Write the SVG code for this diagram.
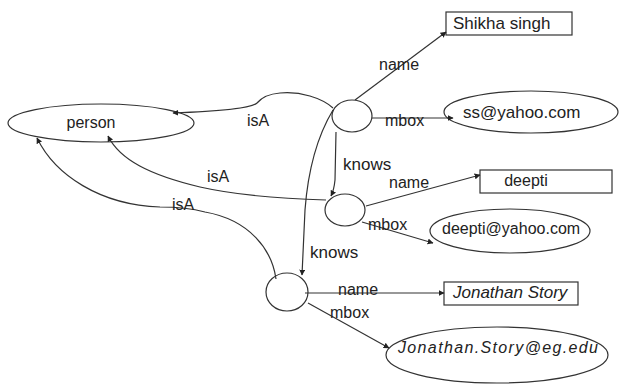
<svg xmlns="http://www.w3.org/2000/svg" width="619" height="385" viewBox="0 0 619 385">
<defs>
<style>
.n{fill:#fff;stroke:#333;stroke-width:1.2}
.e{fill:none;stroke:#333;stroke-width:1.2;marker-end:url(#a)}
text{font-family:"Liberation Sans",Arial,sans-serif;font-size:16px;fill:#222}
.b{font-size:17px}
.i{font-style:italic}
</style>
<marker id="a" viewBox="0 0 10 10" refX="9" refY="5" markerWidth="5" markerHeight="5" orient="auto">
<path d="M0,0 L10,5 L0,10 z" fill="#222"/>
</marker>
</defs>
<rect width="619" height="385" fill="#fff"/>
<g id="person"><ellipse class="n" cx="101" cy="123" rx="93" ry="19"/><text x="91" y="128" text-anchor="middle">person</text></g>
<g id="node1"><ellipse class="n" cx="352" cy="116" rx="20" ry="16"/></g>
<g id="node2"><ellipse class="n" cx="345" cy="210" rx="20" ry="16"/></g>
<g id="node3"><ellipse class="n" cx="287" cy="292" rx="21" ry="19"/></g>
<g id="shikha"><rect class="n" x="446" y="12" width="126" height="23"/><text class="b" x="453" y="29">Shikha singh</text></g>
<g id="ss"><ellipse class="n" cx="531" cy="112" rx="87" ry="21"/><text class="b" x="463" y="118">ss@yahoo.com</text></g>
<g id="deepti"><rect class="n" x="480" y="170" width="132" height="23"/><text x="526" y="186" text-anchor="middle">deepti</text></g>
<g id="deeptimail"><ellipse class="n" cx="510" cy="231" rx="80" ry="22"/><text x="442" y="234">deepti@yahoo.com</text></g>
<g id="jonathan"><rect class="n" x="444" y="282" width="134" height="23"/><text class="b i" x="453" y="298">Jonathan Story</text></g>
<g id="jonathanmail"><ellipse class="n" cx="497" cy="355" rx="111" ry="28"/><text class="i" x="398" y="353" font-size="18" textLength="200">Jonathan.Story@eg.edu</text></g>
<g id="connectors">
<path class="e" d="M333,108 C322,98 300,91 280,93 C268,94 262,97 257,103 C250,110 200,112 173,113"/>
<path class="e" d="M326,200 C290,199 240,196 200,187 C150,175 120,160 108,136"/>
<path class="e" d="M276,279 C272,250 250,220 205,212 C190,208 175,207 160,207 C100,205 55,175 37,138"/>
<path class="e" d="M336,132 L335,180 Q334,190 331,196"/>
<path class="e" d="M333,110 C318,135 308,170 305,210 L302,275"/>
<path class="e" d="M355,100 L446,32"/>
<path class="e" d="M372,118 L453,118"/>
<path class="e" d="M366,206 L480,175"/>
<path class="e" d="M362,222 L433,243"/>
<path class="e" d="M305,293 L444,293"/>
<path class="e" d="M308,303 L389,348"/>
<text x="379" y="70">name</text>
<text x="385" y="126">mbox</text>
<text class="b" x="343" y="170">knows</text>
<text x="389" y="188">name</text>
<text x="368" y="230">mbox</text>
<text class="b" x="310" y="258">knows</text>
<text x="338" y="295">name</text>
<text x="330" y="318">mbox</text>
<text x="247" y="126">isA</text>
<text x="207" y="182">isA</text>
<text x="172" y="210">isA</text>
</g>
</svg>
